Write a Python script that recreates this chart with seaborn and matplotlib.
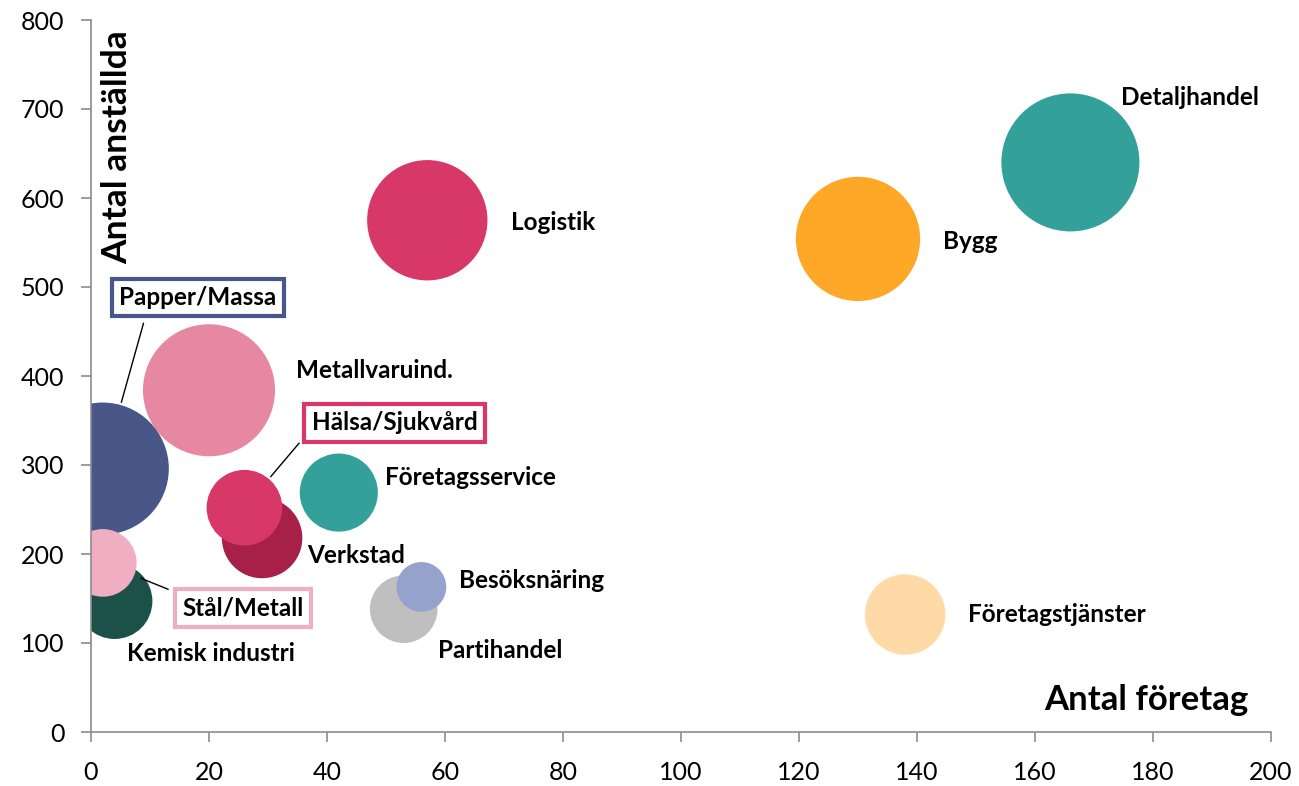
import numpy as np
import pandas as pd
import matplotlib
matplotlib.use('Agg')
import matplotlib.pyplot as plt
import seaborn as sns

sns.set_style("ticks")
plt.rcParams['font.family'] = ['Lato', 'DejaVu Sans']
plt.rcParams['text.color'] = 'black'

# == data
branscher = ['Detaljhandel', 'Bygg', 'Logistik', 'Metallvaruind.', 'Papper/Massa',
             'Kemisk industri', 'Stål/Metall', 'Företagsservice', 'Verkstad',
             'Hälsa/Sjukvård', 'Partihandel', 'Besöksnäring', 'Företagstjänster']
antal_foretag = [166, 130, 57, 20, 2, 4, 2, 42, 29, 26, 53, 56, 138]
antal_anstallda = [640, 554, 575, 384, 296, 147, 190, 269, 218, 252, 138, 163, 132]
bubbla = [100, 81, 76, 91.5, 91.5, 30, 24, 32, 34, 30, 24, 13, 34]
farger = ['#33A19A', '#FFA726', '#D83868', '#E688A2', '#485787',
          '#1B5149', '#EFAEC2', '#33A19A', '#A62048',
          '#D83868', '#BFBFBF', '#95A3CC', '#FFDAA6']

df = pd.DataFrame({'bransch': branscher, 'foretag': antal_foretag,
                   'anstallda': antal_anstallda, 'storlek': bubbla})
palette = dict(zip(branscher, farger))

smax = 9880  # marker area (pt^2) for the largest bubble

fig = plt.figure(figsize=(12.99, 7.86), dpi=100)
ax = fig.add_axes([91/1299, 1-732/786, 1180/1299, 712/786])

sns.scatterplot(data=df, x='foretag', y='anstallda', hue='bransch', palette=palette,
                size='storlek', sizes=(0, smax), size_norm=(0, 100),
                linewidth=0, alpha=1, legend=False, ax=ax)

ax.set_xlim(0, 200)
ax.set_ylim(0, 800)
ax.set_xticks(np.arange(0, 201, 20))
ax.set_yticks(np.arange(0, 801, 100))
ax.set_xlabel('')
ax.set_ylabel('')
sns.despine(ax=ax)
for s in ['left', 'bottom']:
    ax.spines[s].set_color('#8c8c8c')
    ax.spines[s].set_linewidth(1.2)
ax.tick_params(axis='both', direction='out', length=7, width=1.2, color='#8c8c8c',
               labelsize=18, labelcolor='black')
ax.tick_params(axis='x', pad=14)
ax.tick_params(axis='y', pad=12)

ax.text(0.022, 0.986, 'Antal anställda', transform=ax.transAxes, rotation=90,
        ha='center', va='top', fontsize=25.5, fontweight='bold')
ax.text(0.9805, 0.045, 'Antal företag', transform=ax.transAxes,
        ha='right', va='center', fontsize=25, fontweight='bold')

# == labels (offsets in pixels from bubble centre)
plain = {
    'Detaljhandel': (51, 65), 'Bygg': (85, -3), 'Logistik': (84, -2),
    'Metallvaruind.': (87, 20), 'Företagsservice': (46, 15), 'Verkstad': (45, -18),
    'Besöksnäring': (38, 6), 'Partihandel': (34, -41), 'Företagstjänster': (63, 0),
    'Kemisk industri': (12, -52),
}
boxed = {
    'Papper/Massa': ((95, 171), (0.18, 0.0), 2),
    'Hälsa/Sjukvård': ((150, 85), (0.0, 0.25), 2),
    'Stål/Metall': ((140, -45), (0.03, 1.0), 5),
}
fs = 17.5
for i, row in df.iterrows():
    name = row['bransch']
    xy = (row['foretag'], row['anstallda'])
    if name in plain:
        ax.annotate(name, xy=xy, xytext=plain[name], textcoords='offset pixels',
                    ha='left', va='center', fontsize=fs, fontweight='bold')
    else:
        off, rel, gap = boxed[name]
        r_pt = np.sqrt(row['storlek'] / 100 * smax) / 2
        ax.annotate(name, xy=xy, xytext=off, textcoords='offset pixels',
                    ha='center', va='center', fontsize=fs, fontweight='bold',
                    bbox=dict(boxstyle='square,pad=0.3', fc='white',
                              ec=palette[name], lw=3),
                    arrowprops=dict(arrowstyle='-', color='black', lw=1,
                                    relpos=rel, shrinkA=4, shrinkB=r_pt + gap))

plt.savefig('out.png', dpi=100)
